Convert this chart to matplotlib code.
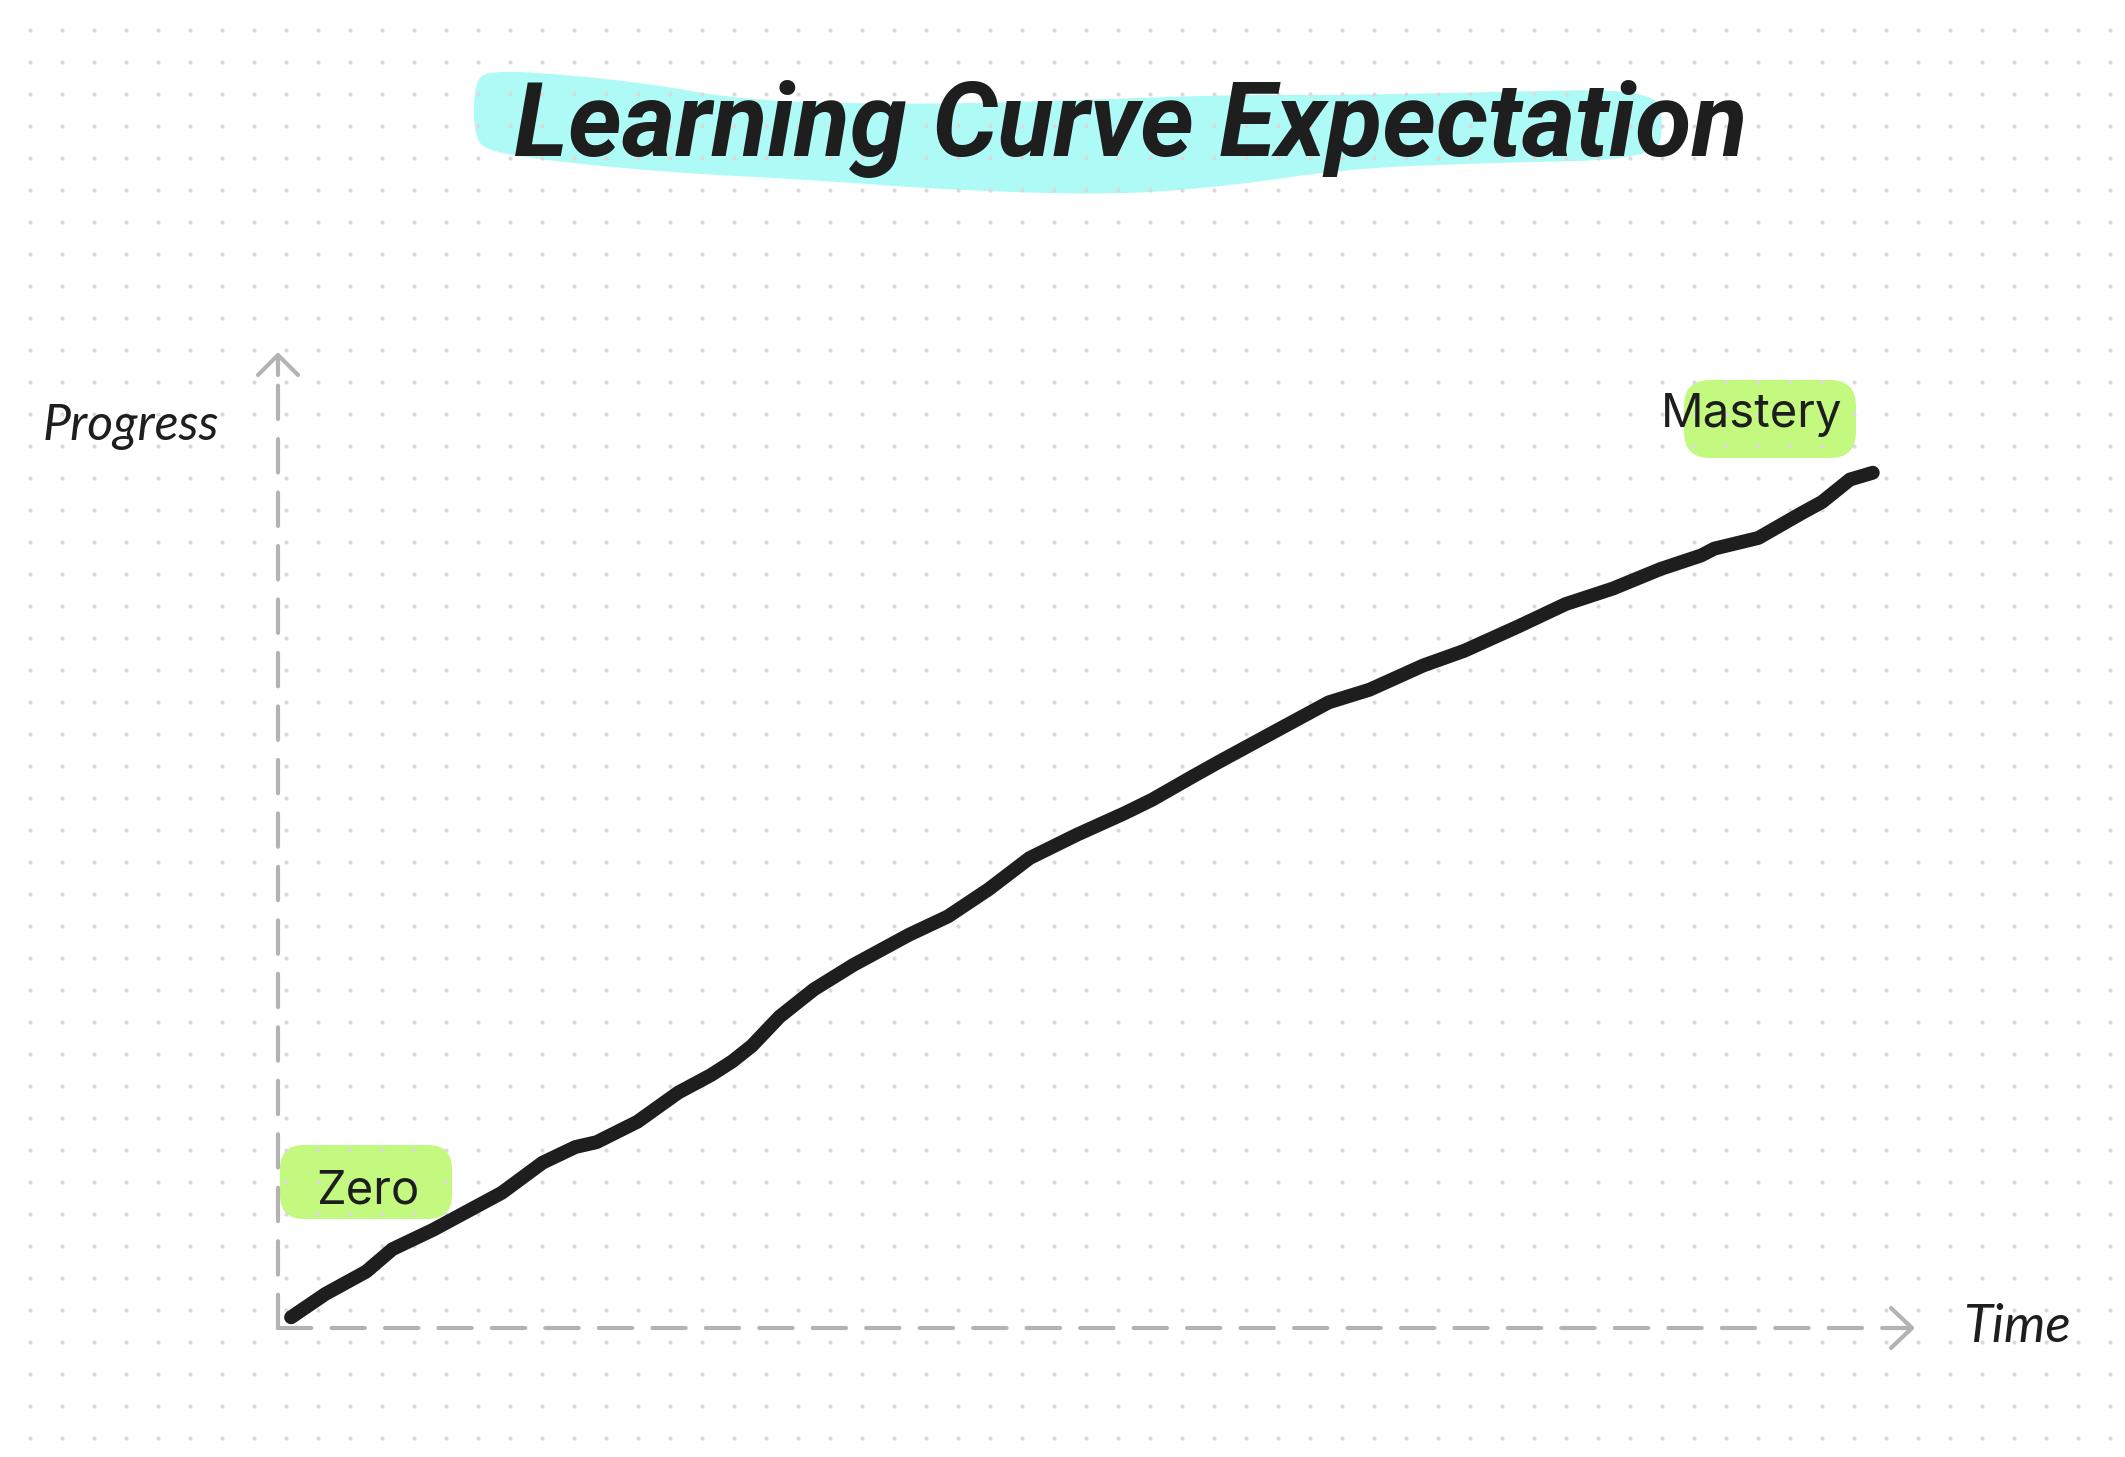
import numpy as np
import matplotlib
matplotlib.use("Agg")
import matplotlib.pyplot as plt
from matplotlib.patches import Polygon, FancyBboxPatch

plt.rcParams['lines.scale_dashes'] = False

# learning curve, both axes on a 0-100 scale
time = [0.8, 2.9, 5.4, 7.0, 9.5, 13.7, 16.2, 18.2, 19.5, 22.0, 24.5, 26.5,
        27.8, 29.0, 30.7, 32.8, 35.2, 38.6, 41.0, 43.5, 46.0, 48.9, 51.8,
        53.5, 56.0, 57.6, 61.0, 64.3, 66.8, 70.1, 72.6, 75.9, 78.8, 81.7,
        84.6, 87.1, 87.9, 90.6, 93.3, 94.5, 96.2, 97.6]
progress = [1.1, 3.5, 5.8, 8.1, 10.1, 13.9, 17.0, 18.6, 19.1, 21.2, 24.2, 26.0,
            27.4, 29.0, 32.0, 34.8, 37.3, 40.4, 42.3, 45.1, 48.3, 50.7, 52.9,
            54.3, 56.7, 58.2, 61.3, 64.3, 65.6, 68.1, 69.6, 72.1, 74.4, 76.0,
            78.0, 79.4, 80.1, 81.2, 83.8, 84.9, 87.2, 87.9]

title = "Learning Curve Expectation"
x_label = "Time"
y_label = "Progress"
start_label = "Zero"
end_label = "Mastery"

INK = '#1e1e1e'
AXIS = '#b3b3b3'
CYAN = '#adfaf6'
GREEN = '#c3f97f'

W, H = 2125, 1457
x0, y0 = 278, 1328      # axis corner (pixels)
x1, y1 = 1912, 355      # arrow tips


def smooth(pts, n=3):
    pts = np.asarray(pts, float)
    for _ in range(n):
        nxt = np.roll(pts, -1, axis=0)
        pts = np.column_stack([0.75 * pts + 0.25 * nxt,
                               0.25 * pts + 0.75 * nxt]).reshape(-1, 2)
    return pts


fig = plt.figure(figsize=(W / 100, H / 100), dpi=100)
fig.patch.set_facecolor('white')
bg = fig.add_axes([0, 0, 1, 1])
bg.set_xlim(0, W)
bg.set_ylim(H, 0)
bg.axis('off')

# dotted paper
gx, gy = np.meshgrid(np.arange(30, W, 32), np.arange(30, H, 32))
bg.scatter(gx.ravel(), gy.ravel(), s=9, color='#dadada', lw=0, zorder=2)

# title marker stroke
blob = [(474, 84), (488, 70), (569, 75), (650, 84), (732, 98), (813, 103),
        (949, 104), (1084, 100), (1220, 95), (1355, 95), (1491, 92),
        (1653, 89), (1664, 122), (1656, 159), (1491, 163), (1355, 168),
        (1220, 187), (1111, 195), (949, 190), (813, 180), (678, 173),
        (569, 163), (488, 152), (474, 136)]
bg.add_patch(Polygon(smooth(blob), closed=True, color=CYAN, lw=0, zorder=1))

t = bg.text(1131, 156, title, ha='center', va='baseline', fontsize=66,
            fontstyle='italic', fontweight='bold', color=INK, zorder=4,
            family=['Roboto', 'DejaVu Sans'])
fig.canvas.draw()
w = t.get_window_extent().width
t.set_fontsize(min(74, 66 * 1287 / w))

# label highlights
bg.add_patch(FancyBboxPatch((280, 1145), 172, 74, color=GREEN, lw=0, zorder=1,
                            boxstyle='round,pad=0,rounding_size=24'))
bg.add_patch(FancyBboxPatch((1684, 380), 172, 78, color=GREEN, lw=0, zorder=1,
                            boxstyle='round,pad=0,rounding_size=26'))
bg.text(368, 1203, start_label, ha='center', va='baseline', fontsize=34,
        family='Inter', color=INK, zorder=4)
bg.text(1752, 427, end_label, ha='center', va='baseline', fontsize=34,
        family='Inter', color=INK, zorder=4)

# axis titles
bg.text(131, 440, y_label, ha='center', va='baseline', fontsize=36,
        family='Lato', fontstyle='italic', color=INK, zorder=4)
bg.text(2017, 1342, x_label, ha='center', va='baseline', fontsize=38,
        family='Lato', fontstyle='italic', color=INK, zorder=4)

# dashed axes with open arrow heads
dash = dict(color=AXIS, lw=3, dashes=(24, 14.5), dash_capstyle='round', zorder=3)
bg.plot([x0, x1 - 4], [y0, y0], **dash)
bg.plot([x0, x0], [y0, y1 + 4], **dash)
head = dict(color=AXIS, lw=3, solid_capstyle='round', solid_joinstyle='round', zorder=3)
bg.plot([x1 - 21, x1, x1 - 21], [y0 - 20, y0, y0 + 20], **head)
bg.plot([x1 - 20, x1], [y0, y0], **head)
bg.plot([x0 - 20, x0, x0 + 20], [y1 + 20, y1, y1 + 20], **head)
bg.plot([x0, x0], [y1, y1 + 20], **head)

# the curve itself
ax = fig.add_axes([x0 / W, 1 - y0 / H, (x1 - x0) / W, (y0 - y1) / H])
ax.set_xlim(0, 100)
ax.set_ylim(0, 100)
ax.axis('off')
ax.patch.set_alpha(0)
ax.plot(time, progress, color=INK, lw=10, solid_capstyle='round',
        solid_joinstyle='round', clip_on=False, zorder=5)

fig.savefig('out.png', dpi=100, facecolor='white')
